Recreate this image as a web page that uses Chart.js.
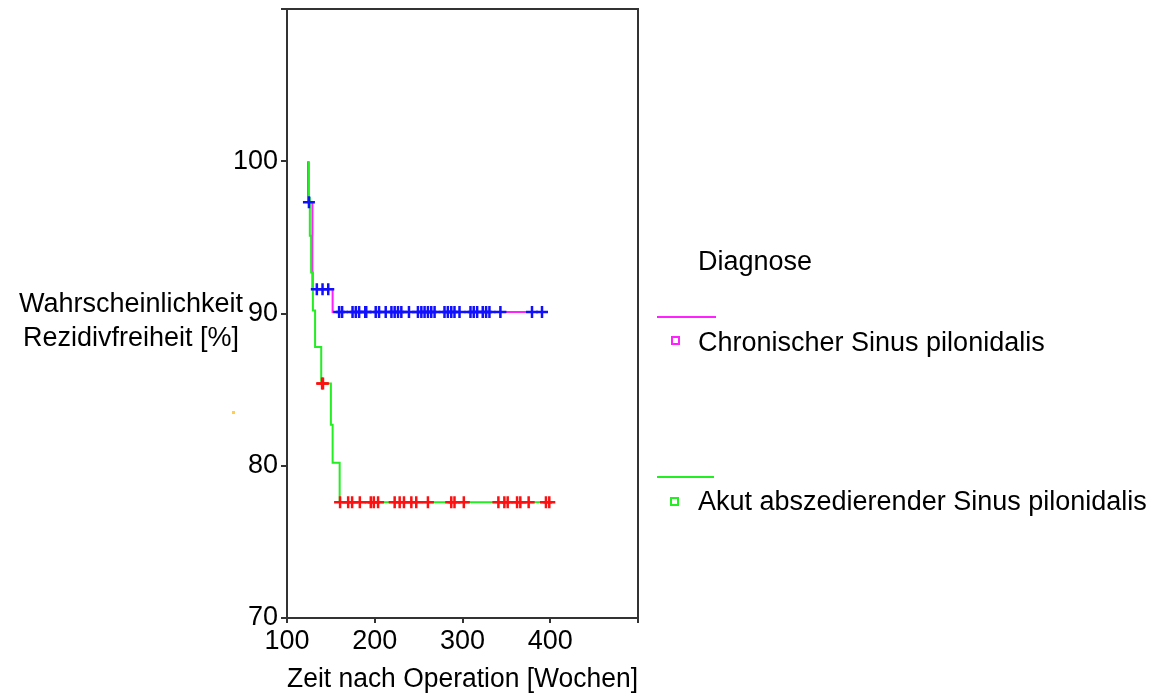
<!DOCTYPE html>
<html lang="de">
<head>
    <meta charset="UTF-8">
    <title>Rezidivfreiheit nach Diagnose</title>
    <script src="https://cdn.jsdelivr.net/npm/chart.js@4.4.1/dist/chart.umd.min.js"></script>
    <style>
        body {
            margin: 0;
            background: #fff;
            font-family: "Liberation Sans", Arial, sans-serif;
        }
        #wrap {
            position: relative;
            width: 1175px;
            height: 696px;
        }
        .txt {
            position: absolute;
            font-size: 27px;
            color: #000;
            white-space: nowrap;
        }
        /* Y-Achsentitel, horizontal */
        #ytitle {
            left: 0;
            top: 286px;
            width: 262px;
            text-align: center;
            line-height: 34px;
        }
        .legline {
            position: absolute;
            height: 2px;
        }
        .legbox {
            position: absolute;
            width: 5px;
            height: 5px;
            border: 2px solid;
        }
    </style>
</head>
<body>
<div id="wrap">
    <canvas id="km"></canvas>

    <div class="txt" id="ytitle">Wahrscheinlichkeit<br>Rezidivfreiheit [%]</div>

    <!-- Legende -->
    <div class="txt" style="left:698px; top:246px;">Diagnose</div>
    <div class="legline" style="left:657px; top:316px; width:59px; background:#ff22ff;"></div>
    <div class="legbox" style="left:671px; top:336px; border-color:#ff22ff;"></div>
    <div class="txt" style="left:698px; top:327px;">Chronischer Sinus pilonidalis</div>
    <div class="legline" style="left:657px; top:476px; width:57px; background:#22ee22;"></div>
    <div class="legbox" style="left:670px; top:497px; border-color:#22ee22;"></div>
    <div class="txt" style="left:698px; top:486px;">Akut abszedierender Sinus pilonidalis</div>

    <div style="position:absolute; left:232px; top:411px; width:3px; height:3px; background:#ffcc55;"></div>
</div>

<script>
    // Kaplan-Meier Stufen (Zeit in Wochen, Rezidivfreiheit in %)
    const chronicTimes = [124, 124, 129, 152, 392];
    const chronicSurv = [100, 97.3, 91.6, 90.1, 90.1];
    const acuteTimes = [125, 125, 126, 127.5, 129.5, 132, 139, 150, 152, 160, 402];
    const acuteSurv = [100, 97.6, 95.1, 92.7, 90.2, 87.8, 85.4, 82.7, 80.2, 77.6, 77.6];

    // zensierte Fälle
    const chronicCensored = [125, 134, 140.5, 147, 159.4, 162.8, 174.7, 178.4, 182.2, 189.2, 190.3,
        201.1, 204.9, 212.5, 219, 222.7, 226.5, 230.3, 239, 249.2, 253.1, 256.8, 260.6, 264.4,
        268.2, 279.5, 283.3, 287.2, 290.9, 296.6, 309.1, 312.8, 316.7, 323.1, 326.9, 330.7,
        343.2, 379.2, 390.6];
    const acuteCensored = [140, 141, 160.5, 169.7, 174.2, 183, 195.5, 198.9, 203.8, 222.7, 228.4,
        233.3, 241.7, 247.3, 260.6, 287.2, 290.9, 301.5, 340.9, 347.7, 351.5, 362.2, 365.9,
        375.4, 395.1, 398.9];

    const xTicks = [100, 200, 300, 400];
    const yTicks = [70, 80, 90, 100];

    function levelAt(times, surv, t) {
        let v = surv[0];
        for (let i = 0; i < times.length; i++) {
            if (times[i] <= t) v = surv[i];
        }
        return v;
    }

    const toPts = (times, surv) => times.map((t, i) => ({ x: t, y: surv[i] }));
    const censPts = (cens, times, surv) => cens.map(t => ({ x: t, y: levelAt(times, surv, t) }));

    // Rahmen oben und rechts
    const framePlugin = {
        id: 'frame',
        beforeDatasetsDraw(chart) {
            const { ctx, chartArea: a } = chart;
            ctx.save();
            ctx.strokeStyle = '#333';
            ctx.lineWidth = 2;
            ctx.beginPath();
            ctx.moveTo(a.left, a.top);
            ctx.lineTo(a.right, a.top);
            ctx.lineTo(a.right, a.bottom);
            ctx.stroke();
            ctx.restore();
        }
    };

    const tickFont = { family: '"Liberation Sans", Arial, sans-serif', size: 27 };

    new Chart(document.getElementById('km'), {
        type: 'line',
        data: {
            datasets: [
                {
                    data: censPts(acuteCensored, acuteTimes, acuteSurv),
                    showLine: false,
                    pointStyle: 'cross',
                    pointRadius: 6,
                    pointBorderWidth: 2.5,
                    borderColor: '#ff1010',
                    order: 0
                },
                {
                    data: censPts(chronicCensored, chronicTimes, chronicSurv),
                    showLine: false,
                    pointStyle: 'cross',
                    pointRadius: 6,
                    pointBorderWidth: 2.5,
                    borderColor: '#1010ff',
                    order: 1
                },
                {
                    data: toPts(acuteTimes, acuteSurv),
                    stepped: true,
                    borderColor: '#22ee22',
                    borderWidth: 2,
                    pointRadius: 0,
                    fill: false,
                    order: 2
                },
                {
                    data: toPts(chronicTimes, chronicSurv),
                    stepped: true,
                    borderColor: '#ff22ff',
                    borderWidth: 2,
                    pointRadius: 0,
                    fill: false,
                    order: 3
                }
            ]
        },
        options: {
            responsive: true,
            maintainAspectRatio: false,
            animation: false,
            layout: { padding: { left: 227, right: 537, top: 9, bottom: 0 } },
            plugins: {
                legend: { display: false },
                tooltip: { enabled: false }
            },
            scales: {
                x: {
                    type: 'linear',
                    min: 100,
                    max: 500,
                    afterFit: s => { s.height = 78; s.paddingLeft = 0; s.paddingRight = 0; },
                    afterBuildTicks: s => { s.ticks = [...xTicks, 500].map(v => ({ value: v })); },
                    ticks: {
                        font: tickFont,
                        color: '#000',
                        padding: 2,
                        maxRotation: 0,
                        autoSkip: false,
                        callback: v => xTicks.includes(v) ? v : ''
                    },
                    grid: { drawOnChartArea: false, tickLength: 5, color: '#333', lineWidth: 2 },
                    border: { color: '#333', width: 2 },
                    title: {
                        display: true,
                        text: 'Zeit nach Operation [Wochen]',
                        font: tickFont,
                        color: '#000',
                        padding: 0
                    }
                },
                y: {
                    min: 70,
                    max: 110,
                    afterFit: s => { s.width = 60; s.paddingTop = 0; s.paddingBottom = 0; },
                    afterBuildTicks: s => { s.ticks = [...yTicks, 110].map(v => ({ value: v })); },
                    ticks: {
                        font: tickFont,
                        color: '#000',
                        padding: 3,
                        callback: v => yTicks.includes(v) ? v : ''
                    },
                    grid: { drawOnChartArea: false, tickLength: 6, color: '#333', lineWidth: 2 },
                    border: { color: '#333', width: 2 }
                }
            }
        },
        plugins: [framePlugin]
    });
</script>
</body>
</html>
